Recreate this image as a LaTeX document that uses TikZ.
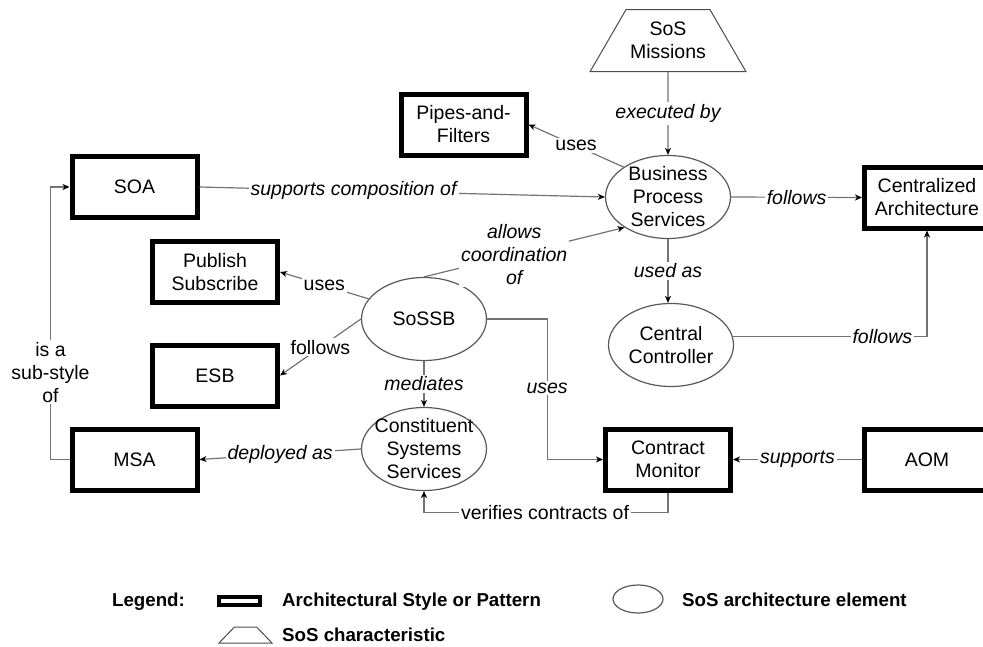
\documentclass[tikz,border=0pt]{standalone}
\usepackage{fontspec}
\setmainfont{Liberation Sans}
\usetikzlibrary{shapes.geometric,arrows.meta}

\begin{document}
\begin{tikzpicture}[x=1pt,y=-1pt,
    font=\fontsize{19.5}{23}\selectfont,
    archbox/.style={draw=black,line width=5pt,minimum width=125pt,
        minimum height=61pt,inner sep=2pt,align=center},
    elemnode/.style={ellipse,draw=black!65,line width=1.2pt,minimum width=125pt,
        minimum height=83pt,inner sep=-10pt,align=center},
    charnode/.style={trapezium,trapezium stretches=true,trapezium angle=50,
        draw=black!70,line width=1pt,minimum width=156pt,minimum height=62pt,
        inner sep=2pt,align=center},
    rel/.style={draw=black!55,line width=1.2pt,
        -{Stealth[length=7pt,width=6pt,inset=2pt,color=black]}},
    lbl/.style={fill=white,inner sep=2pt,align=center},
    ilbl/.style={lbl,font=\fontsize{19.5}{23}\selectfont\itshape},
    keytext/.style={anchor=west,inner sep=0pt,font=\fontsize{18.7}{22}\selectfont\bfseries},
  ]
\useasboundingbox (0,0) rectangle (983,646);

% The SoS characteristic on top
\node[charnode] (sos) at (668,40.5) {SoS\\Missions};

% Architectural styles and patterns (thick boxes)
\node[archbox] (pipes) at (463.5,124.5) {Pipes-and-\\Filters};
\node[archbox] (soa) at (134.5,187) {SOA};
\node[archbox] (ca) at (927,197.5) {Centralized\\Architecture};
\node[archbox] (pubsub) at (215,272) {Publish\\Subscribe};
\node[archbox] (esb) at (215,375.5) {ESB};
\node[archbox] (msa) at (134.5,459.5) {MSA};
\node[archbox] (cm) at (668,459.5) {Contract\\Monitor};
\node[archbox] (aom) at (927,459.5) {AOM};

% SoS architecture elements (ellipses)
\node[elemnode] (bps) at (668,197) {Business\\Process\\Services};
\node[elemnode] (sossb) at (424,319) {SoSSB};
\node[elemnode] (cc) at (671,345) {Central\\Controller};
\node[elemnode] (css) at (424,449) {Constituent\\Systems\\Services};

% Relations between the elements
\draw[rel] (sos.south) -- node[ilbl]{executed by} (bps.north);
\draw[rel] (bps.146) -- node[lbl]{uses} (pipes.east);
\draw[rel] (soa.east) -- node[ilbl,pos=0.38]{supports composition of} (bps.west);
\draw[rel] (bps.east) -- node[ilbl]{follows} (ca.west);
\draw[rel] (sossb.north) -- node[ilbl,pos=0.45]{allows\\coordination\\of} (bps.215);
\draw[rel] (bps.south) -- node[ilbl]{used as} (bps.south |- cc.north);
\draw[rel] (cc.8) -| node[ilbl,pos=0.385]{follows} (ca.south);
\draw[rel] (sossb.160) -- node[lbl]{uses} (pubsub.east);
\draw[rel] (sossb.west) -- node[lbl]{follows} (esb.east);
\draw[rel] (sossb.south) -- node[ilbl]{mediates} (css.north);
\draw[rel] (sossb.east) -- ++(60,0) |- node[ilbl,pos=0.245]{uses} (cm.west);
\draw[rel] (css.west) -- node[ilbl]{deployed as} (msa.east);
\draw[rel] (msa.west) -- ++(-19,0) |- node[lbl,pos=0.16]{is a\\sub-style\\of} (soa.west);
\draw[rel] (aom.west) -- node[ilbl]{supports} (cm.east);
\draw[rel] (cm.south) -- ++(0,20) -| node[lbl,pos=0.252]{verifies contracts of} (css.south);

% Legend
\node[inner sep=0pt,font=\fontsize{18.7}{22}\selectfont\bfseries] (legend) at (148.5,602) {Legend:};
\node[draw=black,line width=4pt,minimum width=41pt,minimum height=8pt,inner sep=0pt] (keybox) at (239.5,601) {};
\node[keytext] (keyboxtext) at (282,602) {Architectural Style or Pattern};
\node[ellipse,draw=black!65,line width=1.2pt,minimum width=50pt,minimum height=28pt,inner sep=0pt] (keyell) at (638,599) {};
\node[keytext] (keyelltext) at (682,600) {SoS architecture element};
\node[trapezium,trapezium stretches=true,trapezium angle=55,draw=black!70,line width=1pt,
    minimum width=53pt,minimum height=16pt,inner sep=1pt] (keytrap) at (245.5,635) {};
\node[keytext] (keytraptext) at (282,635) {SoS characteristic};
\end{tikzpicture}
\end{document}
